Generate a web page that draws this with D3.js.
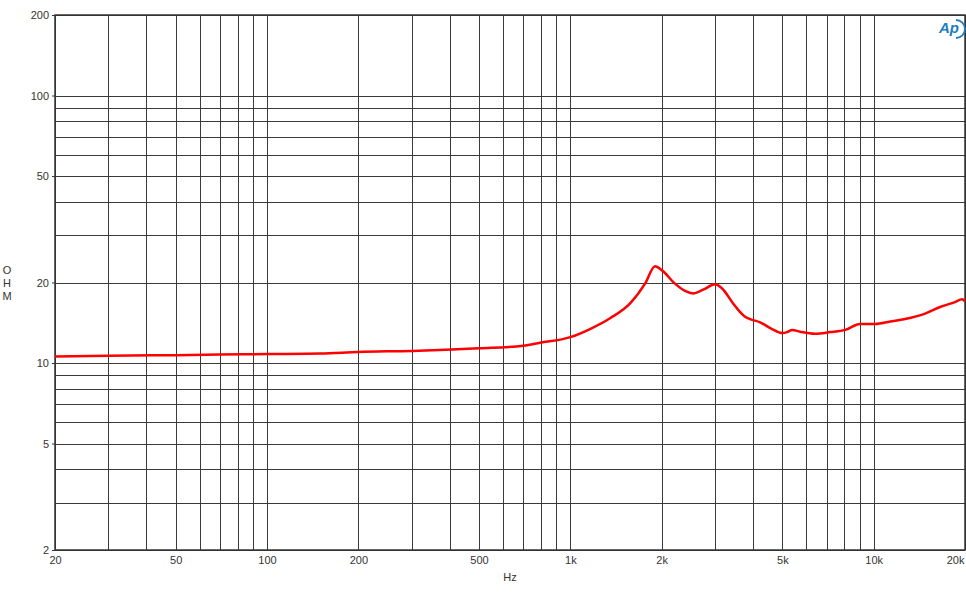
<!DOCTYPE html>
<html><head><meta charset="utf-8">
<script src="https://cdn.jsdelivr.net/npm/d3@7"></script>
<style>body{margin:0;background:#fff;}svg{display:block;font-family:"Liberation Sans",Arial,sans-serif;}</style>
</head><body>
<script>
const freqs = [20,30,50,70,100,150,200,300,500,700,794,1000,1161,1352,1574,1763,1902,2006,2213,2388,2540,2741,3002,3165,3440,3628,3767,3912,4223,4624,4988,5183,5383,5720,6410,7185,8054,9024,10113,11335,12700,14770,16550,18540,19550,20000];
const ohms  = [10.58,10.65,10.7,10.75,10.8,10.85,11.0,11.1,11.35,11.6,11.9,12.5,13.4,14.7,16.7,19.8,23.0,22.2,19.8,18.6,18.2,18.8,19.7,19.0,16.7,15.5,14.9,14.6,14.2,13.4,12.95,13.05,13.3,13.1,12.87,13.05,13.3,14.0,14.0,14.3,14.6,15.3,16.2,16.9,17.3,17.0];
const xGrid = [20,30,40,50,60,70,80,90,100,200,300,400,500,600,700,800,900,1000,2000,3000,4000,5000,6000,7000,8000,9000,10000,20000];
const xTicks = [20,50,100,200,500,1000,2000,5000,10000,20000];
const xTickLabels = ["20","50","100","200","500","1k","2k","5k","10k","20k"];
const yGrid = [2,3,4,5,6,7,8,9,10,20,30,40,50,60,70,80,90,100,200];
const yTicks = [2,5,10,20,50,100,200];

const W=966,H=600, L=55,R=965,T=15,B=550;
const svg=d3.select("body").append("svg").attr("width",W).attr("height",H);
const x=d3.scaleLog().domain([20,20000]).range([L,R]);
const y=d3.scaleLog().domain([2,200]).range([B,T]);

const g=svg.append("g");
g.selectAll("line.xg").data(xGrid).enter().append("line")
 .attr("x1",d=>Math.round(x(d))+0.5).attr("x2",d=>Math.round(x(d))+0.5).attr("y1",T).attr("y2",B)
 .attr("stroke","#3a3a3a").attr("stroke-width",1);
g.selectAll("line.yg").data(yGrid).enter().append("line")
 .attr("y1",d=>Math.round(y(d))+0.5).attr("y2",d=>Math.round(y(d))+0.5).attr("x1",L).attr("x2",R)
 .attr("stroke","#3a3a3a").attr("stroke-width",1);
svg.append("rect").attr("x",L).attr("y",T).attr("width",R-L).attr("height",B-T)
 .attr("fill","none").attr("stroke","#333").attr("stroke-width",1.5);

// x axis labels
const xAxis=d3.axisBottom(x).tickValues(xTicks).tickFormat((d,i)=>xTickLabels[i]).tickSize(0).tickPadding(6);
const xa=svg.append("g").attr("transform",`translate(0,${B})`).call(xAxis);
xa.select(".domain").remove();
xa.selectAll("text").attr("font-size",11).attr("fill","#333").attr("font-family","Liberation Sans, Arial, sans-serif");
xa.selectAll(".tick text").filter(d=>d===20000).attr("text-anchor","end").attr("dx",-1);

const yAxis=d3.axisLeft(y).tickValues(yTicks).tickFormat(d3.format("d")).tickSize(3).tickPadding(3);
const ya=svg.append("g").attr("transform",`translate(${L},0)`).call(yAxis);
ya.select(".domain").remove();
ya.selectAll("line").attr("stroke","#333");
ya.selectAll("text").attr("font-size",11).attr("fill","#333").attr("font-family","Liberation Sans, Arial, sans-serif");

svg.append("text").attr("x",510).attr("y",581).attr("text-anchor","middle").attr("font-size",11).attr("fill","#333").text("Hz");
const ohmT=svg.append("text").attr("x",7).attr("font-size",11).attr("fill","#333").attr("text-anchor","middle");
["O","H","M"].forEach((c,i)=>ohmT.append("tspan").attr("x",7).attr("y",274+i*13).text(c));

// AP logo
const logo=svg.append("g").attr("transform","translate(937,18)");
logo.append("text").attr("x",2).attr("y",15).attr("font-size",15).attr("font-style","italic").attr("font-weight","bold")
 .attr("fill","#1b7ec2").attr("font-family","Liberation Sans, Arial, sans-serif").text("Ap");
logo.append("path").attr("d","M19,2 A9,9 0 0 1 19,20 ").attr("fill","none").attr("stroke","#1b7ec2").attr("stroke-width",1.8);

const line=d3.line().x((d,i)=>x(freqs[i])).y(d=>y(d)).curve(d3.curveMonotoneX);
svg.append("path").datum(ohms).attr("d",line).attr("fill","none").attr("stroke","#ff0000").attr("stroke-width",2.5).attr("stroke-linejoin","round");
</script>
</body></html>
